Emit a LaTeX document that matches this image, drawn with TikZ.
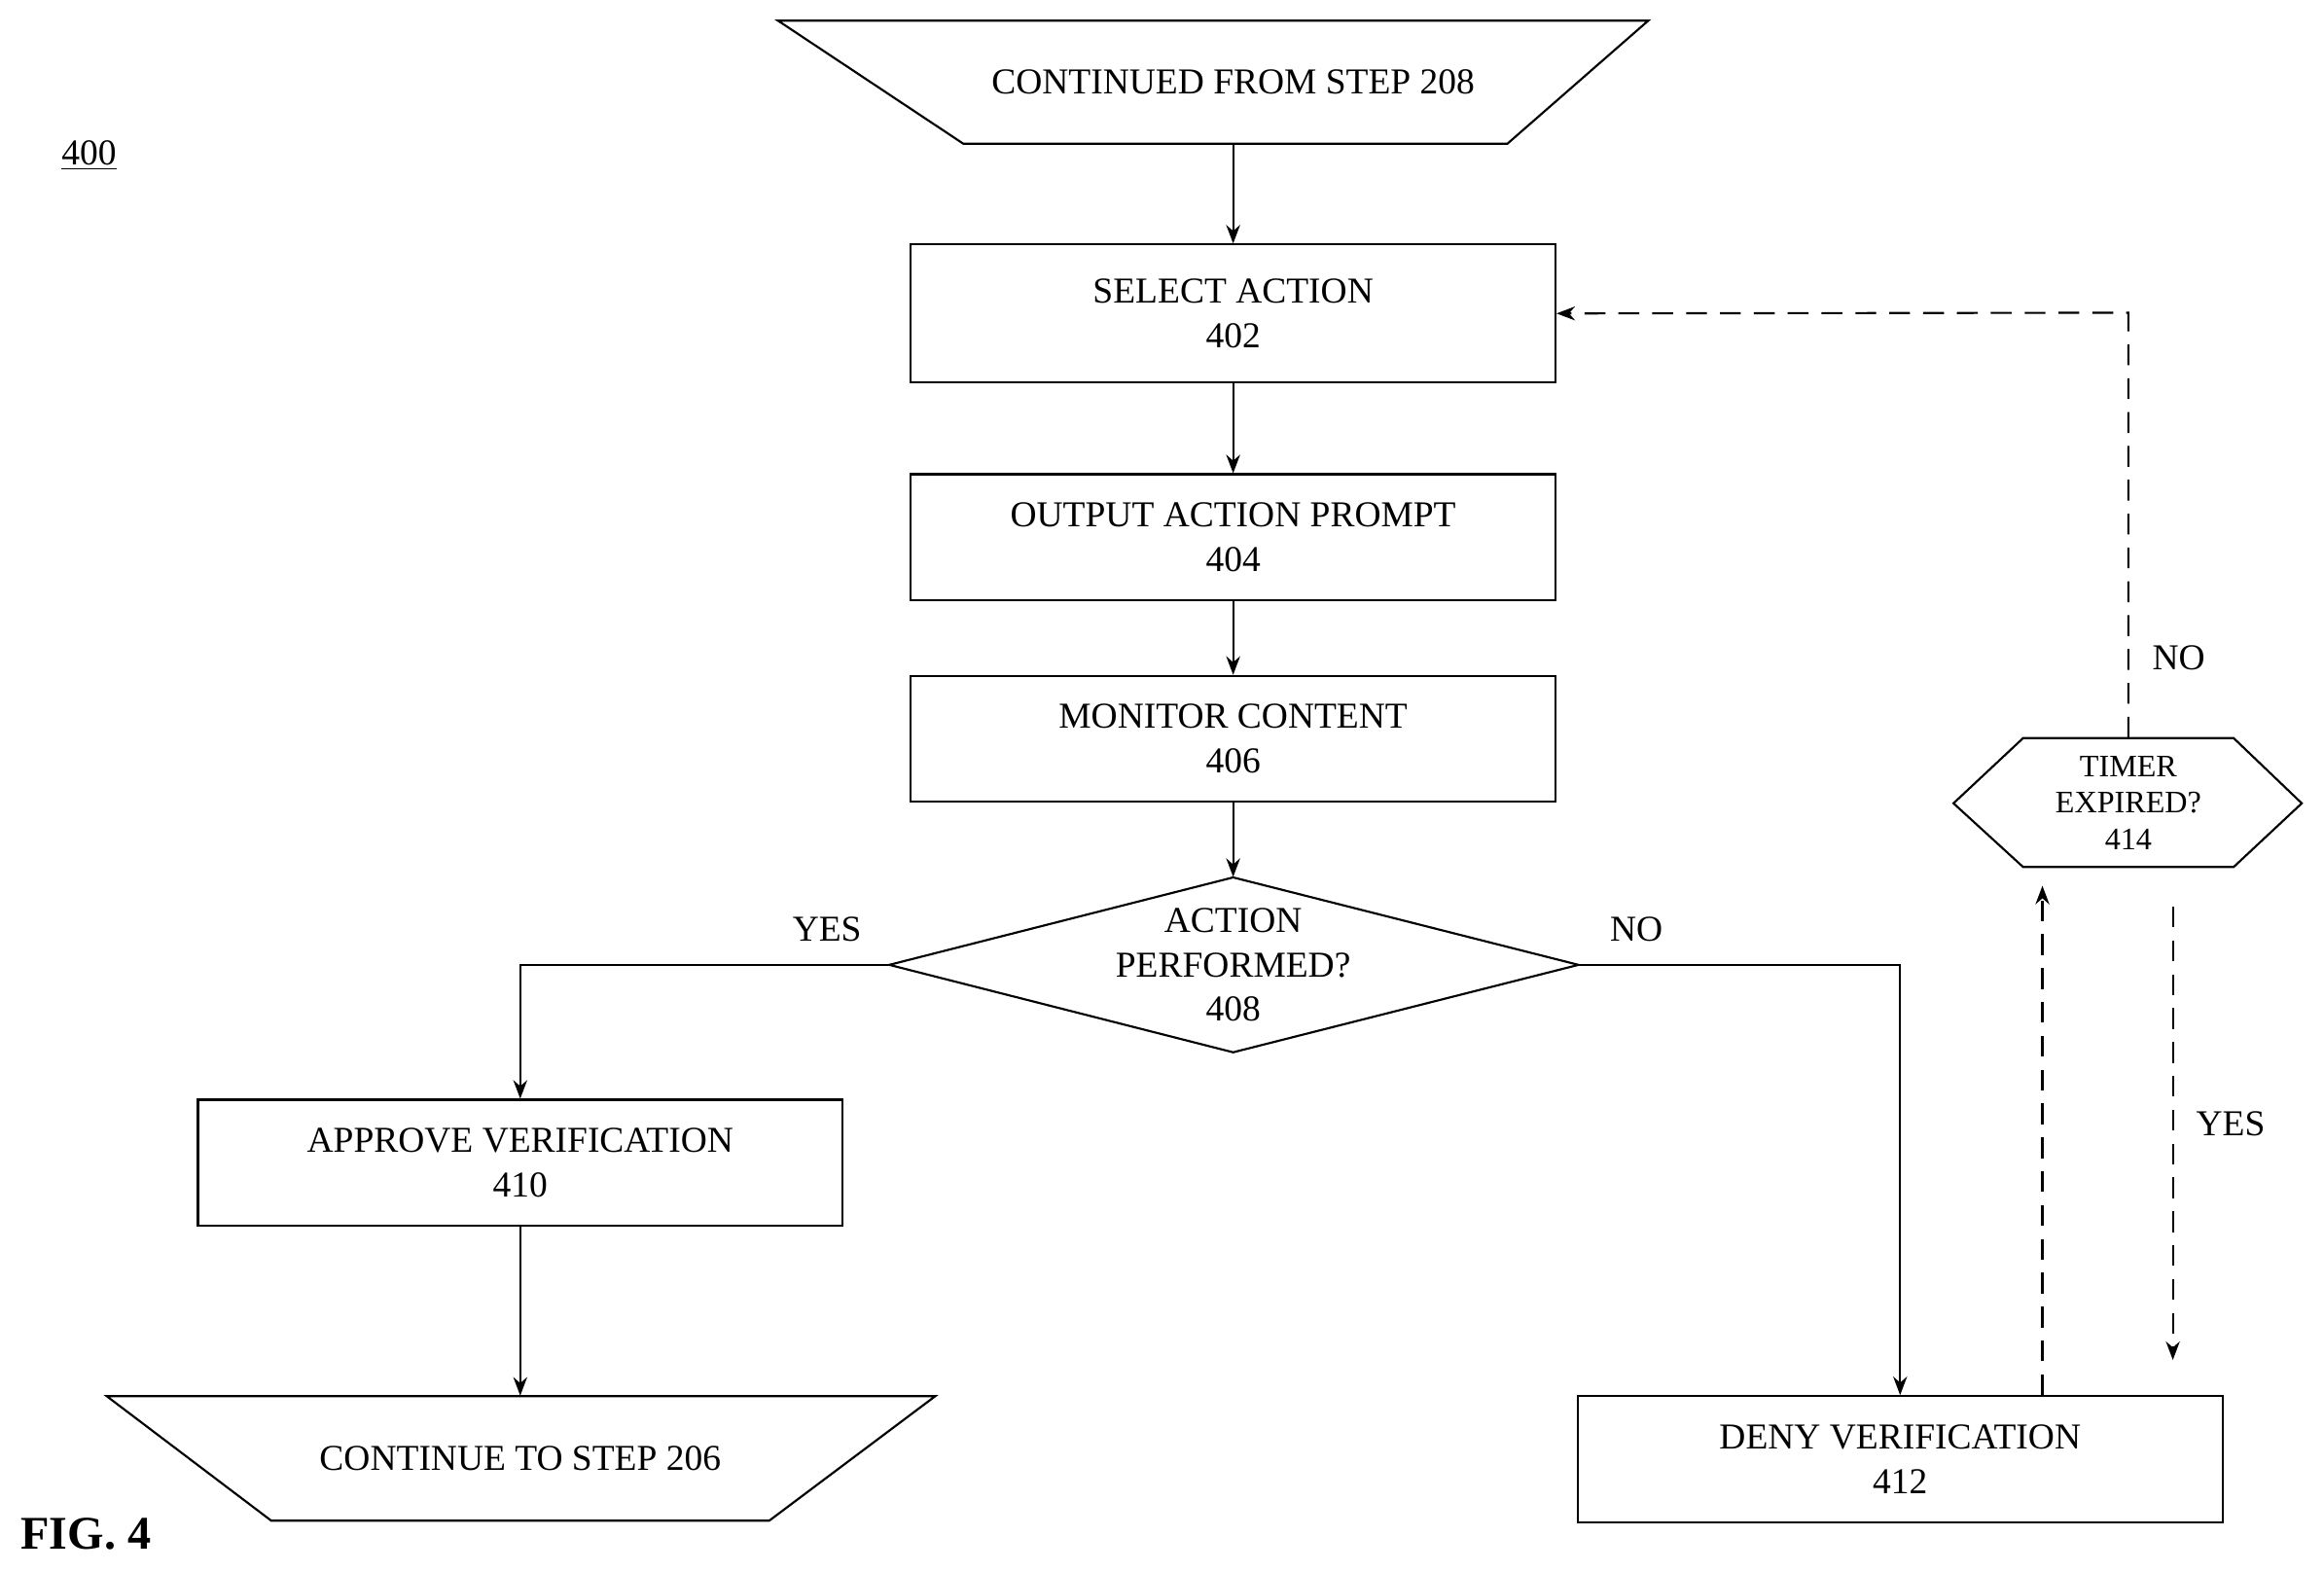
\documentclass[tikz,border=0pt]{standalone}
\usepackage{fontspec}
\setmainfont{Liberation Serif}
\usetikzlibrary{arrows.meta,positioning,calc}
\begin{document}
\begin{tikzpicture}[x={(0.02cm,0)},y={(0,-0.02cm)},font=\fontsize{14}{17}\selectfont]
  %----- styles
  \tikzset{
    proc/.style  ={draw,thick,minimum width=8.7cm,minimum height=1.7cm,align=center},
    ghost/.style ={align=center,inner sep=0pt},
    arrow/.style ={-{Stealth[length=2.5mm]},thick},
    dasharrow/.style ={arrow,dashed,dash pattern=on 8pt off 5pt}
  }
  \useasboundingbox (0,0) rectangle (1568,1060);

  %----- nodes
  \draw[thick] (525,14) -- (1112,14) -- (1017,97) -- (650,97) -- cycle;
  \node[ghost,minimum height=1.66cm] (cont) at (832,55.5) {CONTINUED FROM STEP 208};
  \node (fig) at (60,105) {\underline{400}};

  \node[proc,minimum height=1.86cm] (s402) at (832,211.5) {SELECT ACTION\\402};
  \node[proc] (s404) at (832,362.5) {OUTPUT ACTION PROMPT\\404};
  \node[proc] (s406) at (832,498.5) {MONITOR CONTENT\\406};

  \draw[thick] (600,651) -- (832,592) -- (1065,651) -- (832,710) -- cycle;
  \node[ghost,minimum height=2.36cm,minimum width=9.3cm] (s408) at (832,651) {ACTION\\PERFORMED?\\408};

  \node[proc] (s410) at (351,784.5) {APPROVE VERIFICATION\\410};
  \draw[thick] (72,942) -- (631,942) -- (519,1026) -- (183,1026) -- cycle;
  \node[ghost,minimum height=1.68cm] (end) at (351,984) {CONTINUE TO STEP 206};

  \node[proc] (s412) at (1282,984.5) {DENY VERIFICATION\\412};

  \draw[thick] (1318,542) -- (1365,498) -- (1507,498) -- (1553,542) -- (1507,585) -- (1365,585) -- cycle;
  \node[ghost,minimum height=1.74cm,font=\fontsize{12}{14}\selectfont] (s414) at (1436,541.5) {TIMER\\EXPIRED?\\414};

  \node[font=\fontsize{18}{22}\selectfont\bfseries] (figlbl) at (58,1035) {FIG. 4};

  %----- connections
  \draw[arrow] (cont.south) -- (s402.north);
  \draw[arrow] (s402) -- (s404);
  \draw[arrow] (s404) -- (s406);
  \draw[arrow] (s406.south) -- (s408.north);
  \draw[arrow] (s408.west) -- (351,651) -- (s410.north);
  \node (yes1) at (558,627) {YES};
  \draw[arrow] (s408.east) -- (1282,651) -- (s412.north);
  \node (no1) at (1104,627) {NO};
  \draw[arrow] (s410) -- (end.north);

  \coordinate (up) at (1378,0);
  \coordinate (down) at (1466,0);
  \draw[dasharrow] (s412.north -| up) -- ([yshift=-7pt]s414.south -| up);
  \draw[dasharrow] ([yshift=-15pt]s414.south -| down) -- ([yshift=13.5pt]s412.north -| down);
  \node (yes2) at (1505,758) {YES};
  \draw[dasharrow] (s414.north) -- (1436,211) -- (s402.east);
  \node (no2) at (1470,444) {NO};
\end{tikzpicture}
\end{document}
